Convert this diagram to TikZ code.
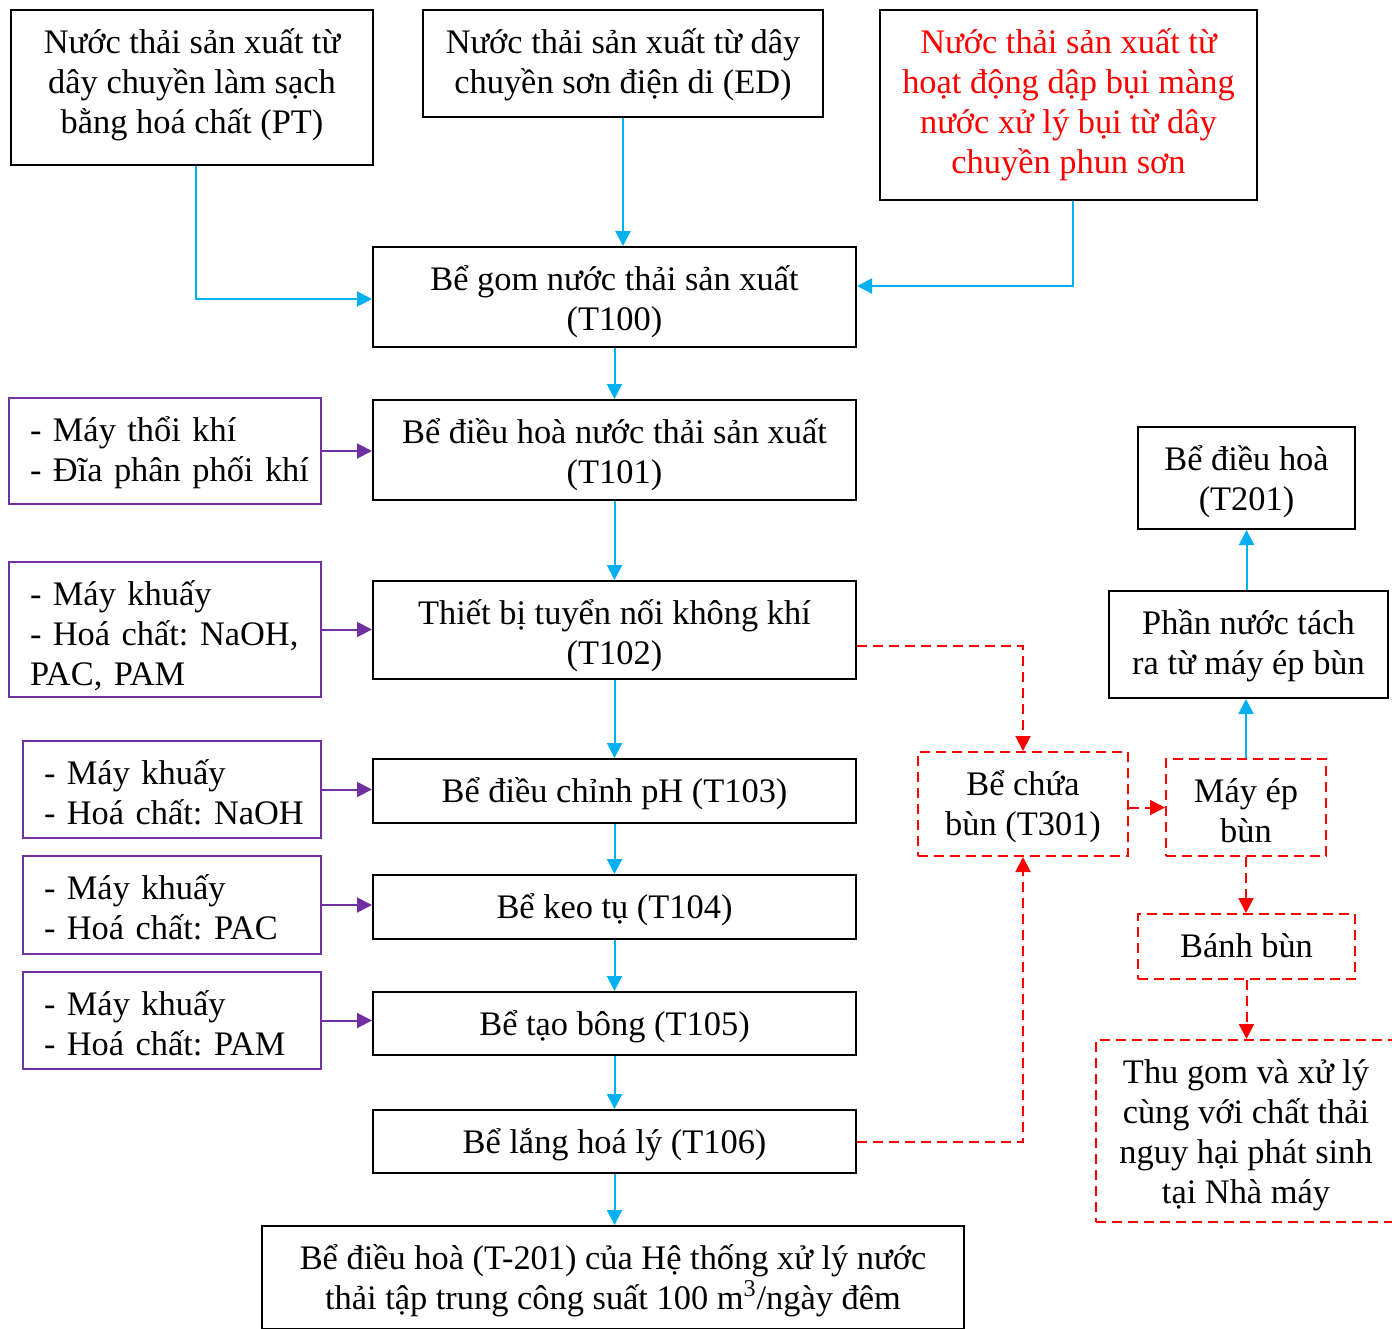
\documentclass[tikz,border=0pt]{standalone}
\usepackage{fontspec}
\setmainfont{Liberation Serif}
\frenchspacing
\usetikzlibrary{arrows.meta,calc}
\definecolor{flowblue}{HTML}{00B0F0}
\definecolor{chempurple}{HTML}{7030A0}
\definecolor{sludgered}{HTML}{FF0000}
% text frames: 20pt leading; text height and depth span the frame from top to bottom
% (measured from the last baseline for centred text, from the first for left-aligned
% paragraphs), so that the first baseline sits 21.5pt below the top edge
\tikzset{
  frame/.style={line width=1pt, inner sep=0pt, font=\fontsize{17.2}{20}\selectfont},
  hd/.style 2 args={text height=#1pt, text depth=#2pt, minimum height=#1pt+#2pt},
  box/.style={frame, draw=black, align=center},
  chembox/.style={frame, draw=chempurple, align=left, inner xsep=10.5pt},
  sludgebox/.style={frame, draw=sludgered, dash pattern=on 5pt off 3pt, align=center},
  tip/.style={-{Triangle[length=7.5pt,width=7.5pt]}},
  water/.style={draw=flowblue, line width=1pt, tip},
  dosing/.style={draw=chempurple, line width=1pt, tip},
  sludge/.style={draw=sludgered, line width=1pt, dash pattern=on 5pt off 3pt, tip},
}
\begin{document}
\begin{tikzpicture}[x=0.5pt,y=-0.5pt]
\useasboundingbox (0,0) rectangle (1392,1328);
\clip (0,0) rectangle (1392,1328);

% sources of production wastewater
\node[box, minimum width=181pt, hd={61.5}{16}] (pt) at (192,87.5)
  {Nước thải sản xuất từ\\dây chuyền làm sạch\\bằng hoá chất (PT)};
\node[box, minimum width=200pt, hd={41.5}{12}] (ed) at (623,63.5)
  {Nước thải sản xuất từ dây\\chuyền sơn điện di (ED)};
\node[box, minimum width=188.5pt, hd={81.5}{13.5}, text=sludgered] (spray) at (1068.5,105)
  {Nước thải sản xuất từ\\hoạt động dập bụi màng\\nước xử lý bụi từ dây\\chuyền phun sơn};

% main treatment line
\node[box, minimum width=241.5pt, hd={41.5}{8.5}] (t100) at (614.5,297)
  {Bể gom nước thải sản xuất\\(T100)};
\node[box, minimum width=241.5pt, hd={41.5}{8.5}] (t101) at (614.5,450)
  {Bể điều hoà nước thải sản xuất\\(T101)};
\node[box, minimum width=241.5pt, hd={41.5}{7.5}] (t102) at (614.5,630)
  {Thiết bị tuyển nối không khí\\(T102)};
\node[box, minimum width=241.5pt, hd={21.5}{10.5}] (t103) at (614.5,791)
  {Bể điều chỉnh pH (T103)};
\node[box, minimum width=241.5pt, hd={21.5}{10.5}] (t104) at (614.5,907)
  {Bể keo tụ (T104)};
\node[box, minimum width=241.5pt, hd={21.5}{10}] (t105) at (614.5,1023.5)
  {Bể tạo bông (T105)};
\node[box, minimum width=241.5pt, hd={21.5}{10}] (t106) at (614.5,1141.5)
  {Bể lắng hoá lý (T106)};
\node[box, minimum width=351pt, hd={41.5}{10}] (final) at (613,1277.5)
  {Bể điều hoà (T-201) của Hệ thống xử lý nước\\thải tập trung công suất 100 m\textsuperscript{3}/ngày đêm};

% equipment and chemicals
\node[chembox, text width=135pt, hd={21.5}{31.5}] (p1) at (165,451)
  {\mbox{- Máy thổi khí}\\\mbox{- Đĩa phân phối khí}};
\node[chembox, text width=135pt, hd={21.5}{46}] (p2) at (165,629.5)
  {\mbox{- Máy khuấy}\\\mbox{- Hoá chất: NaOH,}\\\mbox{PAC, PAM}};
\node[chembox, text width=128pt, hd={21.5}{27}] (p3) at (172,789.5)
  {\mbox{- Máy khuấy}\\\mbox{- Hoá chất: NaOH}};
\node[chembox, text width=128pt, hd={21.5}{27.5}] (p4) at (172,905)
  {\mbox{- Máy khuấy}\\\mbox{- Hoá chất: PAC}};
\node[chembox, text width=128pt, hd={21.5}{27}] (p5) at (172,1020.5)
  {\mbox{- Máy khuấy}\\\mbox{- Hoá chất: PAM}};

% sludge line
\node[sludgebox, minimum width=105pt, hd={41.5}{10.5}] (t301) at (1023,804)
  {Bể chứa\\bùn (T301)};
\node[sludgebox, minimum width=80pt, hd={41.5}{7}] (press) at (1246,807.5)
  {Máy ép\\bùn};
\node[sludgebox, minimum width=108.5pt, hd={21.5}{11}] (cake) at (1246.5,946.5)
  {Bánh bùn};
\node[sludgebox, minimum width=150pt, hd={81.5}{9.5}] (haz) at (1246,1131)
  {Thu gom và xử lý\\cùng với chất thải\\nguy hại phát sinh\\tại Nhà máy};
\node[box, minimum width=139.5pt, hd={41.5}{12}] (filtrate) at (1248.5,644.5)
  {Phần nước tách\\ra từ máy ép bùn};
\node[box, minimum width=108.5pt, hd={41.5}{9.5}] (t201) at (1246.5,478)
  {Bể điều hoà\\(T201)};

% water flow
\draw[water] ([xshift=2pt]pt.south) |- ([yshift=-1pt]t100.west);
\draw[water] (ed.south) -- (ed.south |- t100.north);
\draw[water] ([xshift=2pt]spray.south) |- ([yshift=5.5pt]t100.east);
\draw[water] (t100.south) -- (t101.north);
\draw[water] (t101.south) -- (t102.north);
\draw[water] (t102.south) -- (t103.north);
\draw[water] (t103.south) -- (t104.north);
\draw[water] (t104.south) -- (t105.north);
\draw[water] (t105.south) -- (t106.north);
\draw[water] (t106.south) -- (t106.south |- final.north);
\draw[water] (press.north) -- (press.north |- filtrate.south);
\draw[water] (t201.south |- filtrate.north) -- (t201.south);

% dosing
\draw[dosing] (p1.east) -- (p1.east -| t101.west);
\draw[dosing] (p2.east) -- (p2.east -| t102.west);
\draw[dosing] (p3.east) -- (p3.east -| t103.west);
\draw[dosing] (p4.east) -- (p4.east -| t104.west);
\draw[dosing] (p5.east) -- (p5.east -| t105.west);

% sludge flow
\draw[sludge] ([yshift=-8pt]t102.east) -| (t301.north);
\draw[sludge] (t106.east) -| (t301.south);
\draw[sludge] (t301.east |- press.west) -- (press.west);
\draw[sludge] (press.south) -- (press.south |- cake.north);
\draw[sludge] (cake.south) -- (cake.south |- haz.north);
\end{tikzpicture}
\end{document}
